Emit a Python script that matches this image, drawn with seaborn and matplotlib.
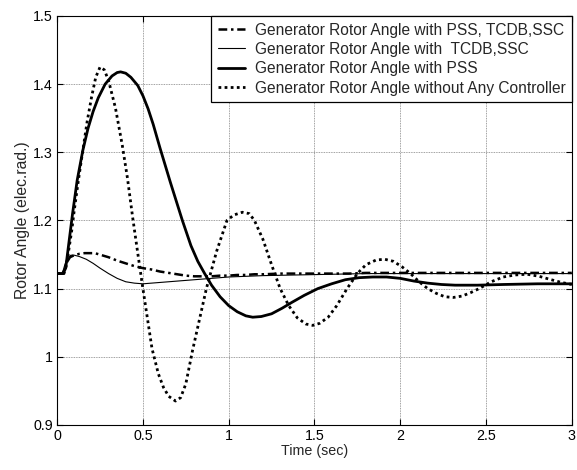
import matplotlib
matplotlib.use("Agg")
import matplotlib.pyplot as plt
import seaborn as sns
import pandas as pd

# --- data ---
t_all = [0.00, 0.03, 0.045, 0.06, 0.075, 0.10, 0.13, 0.16, 0.19, 0.22, 0.26, 0.30, 0.35, 0.40, 0.45, 0.50,
         0.55, 0.60, 0.65, 0.70, 0.75, 0.80, 0.85, 0.90, 0.95, 1.00, 1.05, 1.10, 1.15, 1.20, 1.30,
         1.40, 1.50, 1.60, 1.70, 1.80, 1.90, 2.00, 2.20, 2.40, 2.60, 2.80, 3.00]
y_all = [1.122, 1.122, 1.128, 1.140, 1.146, 1.149, 1.151, 1.152, 1.152, 1.152, 1.149, 1.146, 1.141, 1.137, 1.133, 1.130,
         1.128, 1.125, 1.123, 1.121, 1.119, 1.118, 1.118, 1.118, 1.119, 1.119, 1.120, 1.120, 1.121, 1.121, 1.122,
         1.122, 1.122, 1.122, 1.122, 1.123, 1.123, 1.123, 1.123, 1.123, 1.123, 1.123, 1.123]

t_tcdb = [0.00, 0.03, 0.045, 0.06, 0.08, 0.10, 0.13, 0.17, 0.21, 0.25, 0.30, 0.35, 0.40, 0.45, 0.50, 0.55,
          0.60, 0.70, 0.80, 0.90, 1.00, 1.10, 1.20, 1.40, 1.60, 1.80, 2.00, 2.50, 3.00]
y_tcdb = [1.122, 1.122, 1.135, 1.145, 1.149, 1.149, 1.147, 1.143, 1.137, 1.130, 1.122, 1.115, 1.110, 1.108, 1.107, 1.108,
          1.109, 1.111, 1.113, 1.115, 1.117, 1.118, 1.119, 1.120, 1.121, 1.122, 1.122, 1.122, 1.122]

t_pss = [0.00, 0.035, 0.05, 0.07, 0.09, 0.117, 0.15, 0.18, 0.21, 0.24, 0.28, 0.32, 0.35, 0.37, 0.40,
         0.43, 0.47, 0.50, 0.53, 0.56, 0.60, 0.66, 0.73, 0.78, 0.82, 0.86, 0.90, 0.95, 1.00, 1.05,
         1.10, 1.14, 1.19, 1.25, 1.31, 1.37, 1.44, 1.52, 1.60, 1.68, 1.76, 1.84, 1.92, 2.00, 2.08,
         2.16, 2.24, 2.32, 2.45, 2.60, 2.80, 3.00]
y_pss = [1.122, 1.122, 1.130, 1.170, 1.210, 1.259, 1.303, 1.335, 1.360, 1.380, 1.400, 1.412, 1.417, 1.418, 1.416,
         1.410, 1.398, 1.383, 1.364, 1.341, 1.306, 1.256, 1.200, 1.163, 1.140, 1.122, 1.105, 1.088, 1.075, 1.066,
         1.060, 1.058, 1.059, 1.063, 1.071, 1.080, 1.090, 1.100, 1.107, 1.113, 1.116, 1.117, 1.117, 1.115, 1.111,
         1.108, 1.106, 1.105, 1.105, 1.106, 1.107, 1.107]

t_none = [0.00, 0.04, 0.055, 0.07, 0.085, 0.10, 0.124, 0.15, 0.175, 0.20, 0.225, 0.25, 0.275, 0.30, 0.34,
          0.38, 0.41, 0.44, 0.47, 0.50, 0.553, 0.59, 0.62, 0.65, 0.69, 0.72, 0.75, 0.79, 0.83, 0.87,
          0.93, 0.99, 1.03, 1.08, 1.12, 1.15, 1.20, 1.25, 1.30, 1.35, 1.40, 1.45, 1.49, 1.53, 1.58,
          1.63, 1.69, 1.75, 1.80, 1.86, 1.91, 1.96, 2.01, 2.06, 2.11, 2.16, 2.21, 2.26, 2.31, 2.36,
          2.41, 2.46, 2.53, 2.60, 2.67, 2.74, 2.81, 2.88, 2.94, 3.00]
y_none = [1.122, 1.122, 1.135, 1.160, 1.185, 1.215, 1.259, 1.303, 1.345, 1.380, 1.410, 1.425, 1.421, 1.405, 1.365,
          1.310, 1.262, 1.205, 1.152, 1.100, 1.012, 0.975, 0.955, 0.942, 0.935, 0.940, 0.960, 1.010, 1.055, 1.100,
          1.155, 1.200, 1.208, 1.212, 1.210, 1.200, 1.172, 1.135, 1.100, 1.075, 1.057, 1.048, 1.046, 1.049, 1.058,
          1.075, 1.100, 1.122, 1.135, 1.142, 1.143, 1.140, 1.132, 1.122, 1.110, 1.100, 1.093, 1.088, 1.087, 1.089,
          1.094, 1.100, 1.110, 1.117, 1.120, 1.121, 1.118, 1.113, 1.109, 1.106]

labels = ["Generator Rotor Angle with PSS, TCDB,SSC",
          "Generator Rotor Angle with  TCDB,SSC",
          "Generator Rotor Angle with PSS",
          "Generator Rotor Angle without Any Controller"]

x_ticks = [0, 0.5, 1, 1.5, 2, 2.5, 3]
x_ticklabels = ["0", "0.5", "1", "1.5", "2", "2.5", "3"]
y_ticks = [0.9, 1.0, 1.1, 1.2, 1.3, 1.4, 1.5]
y_ticklabels = ["0.9", "1", "1.1", "1.2", "1.3", "1.4", "1.5"]

sns.set_style("white")
plt.rcParams["font.family"] = ["Liberation Sans", "DejaVu Sans"]

fig = plt.figure(figsize=(5.77, 4.70), dpi=100)
ax = fig.add_axes([0.099, 0.096, 0.892, 0.870])

series = [(t_all, y_all, labels[0], (0, (3.5, 1.5, 1, 1.5)), 1.8),
          (t_tcdb, y_tcdb, labels[1], "-", 0.8),
          (t_pss, y_pss, labels[2], "-", 2.0),
          (t_none, y_none, labels[3], (0, (1, 1.2)), 2.0)]

for t, y, lab, ls, lw in series:
    df = pd.DataFrame({"t": t, "y": y})
    sns.lineplot(data=df, x="t", y="y", ax=ax, color="black", linestyle=ls,
                 linewidth=lw, label=lab, sort=False, estimator=None)

ax.set_xlim(0, 3)
ax.set_ylim(0.9, 1.5)
ax.set_xticks(x_ticks)
ax.set_xticklabels(x_ticklabels)
ax.set_yticks(y_ticks)
ax.set_yticklabels(y_ticklabels)
ax.grid(True, color="#808080", linestyle=(0, (1, 1)), linewidth=0.6)
ax.tick_params(direction="in", length=4, labelsize=10.3, colors="black", pad=3,
               top=True, right=True, bottom=True, left=True)
for s in ax.spines.values():
    s.set_color("black")
    s.set_linewidth(0.8)
ax.set_xlabel("Time (sec)", fontsize=10.3, labelpad=1)
ax.set_ylabel("Rotor Angle (elec.rad.)", fontsize=11.3, labelpad=2)

leg = ax.legend(loc="upper right", borderaxespad=0, fontsize=11.2, frameon=True,
                fancybox=False, edgecolor="black", framealpha=1, handlelength=1.75,
                borderpad=0.42, labelspacing=0.28, handletextpad=0.6)
leg.get_frame().set_linewidth(0.9)

fig.savefig("out.png", dpi=100)
